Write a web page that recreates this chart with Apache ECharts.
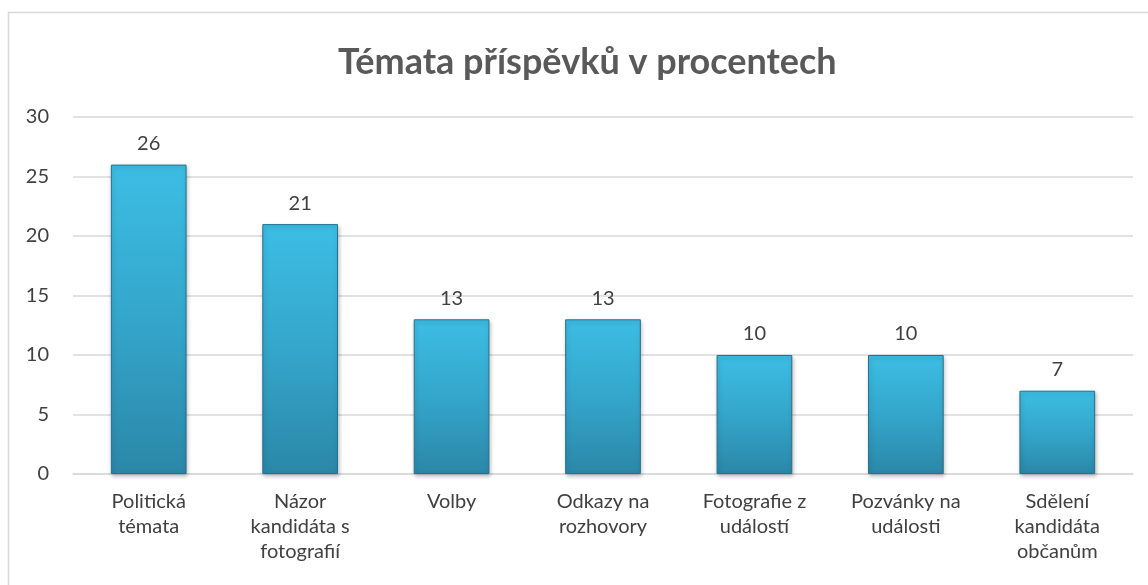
<!DOCTYPE html>
<html>
<head>
<meta charset="utf-8">
<script src="https://cdn.jsdelivr.net/npm/echarts@6/dist/echarts.min.js"></script>
<style>
  html, body { margin: 0; padding: 0; background: #fff; }
  #chart { width: 1148px; height: 585px; }
</style>
</head>
<body>
<div id="chart"></div>
<script>
const title = 'Témata příspěvků v procentech'
const categories = [
  'Politická\ntémata',
  'Názor\nkandidáta s\nfotografií',
  'Volby',
  'Odkazy na\nrozhovory',
  'Fotografie z\nudálostí',
  'Pozvánky na\nudálosti',
  'Sdělení\nkandidáta\nobčanům'
]
const values = [26, 21, 13, 13, 10, 10, 7]
const yTicks = { min: 0, max: 30, interval: 5 }

const font = 'Lato, "Open Sans", sans-serif'
const chart = echarts.init(document.getElementById('chart'))

chart.setOption({
  animation: false,
  title: {
    text: title,
    left: 333,
    top: 39,
    textStyle: { fontFamily: font, fontSize: 36, fontWeight: 'bold', color: '#595959' }
  },
  graphic: [{
    type: 'rect',
    shape: { x: 8.5, y: 12.5, width: 1150, height: 600 },
    style: { fill: 'none', stroke: '#d9d9d9', lineWidth: 1.5 },
    silent: true
  }],
  grid: { left: 73, right: 15, top: 117, bottom: 111 },
  xAxis: {
    type: 'category',
    data: categories,
    axisTick: { show: false },
    axisLine: { lineStyle: { color: '#d9d9d9', width: 1.5 } },
    axisLabel: { fontFamily: font, fontSize: 20, color: '#404040', lineHeight: 25, margin: 15, interval: 0 }
  },
  yAxis: {
    type: 'value',
    min: yTicks.min,
    max: yTicks.max,
    interval: yTicks.interval,
    axisLine: { show: false },
    axisTick: { show: false },
    splitLine: { lineStyle: { color: '#d9d9d9', width: 1.5 } },
    axisLabel: { fontFamily: font, fontSize: 20, color: '#404040', margin: 24 }
  },
  series: [{
    type: 'bar',
    data: values,
    barWidth: '50%',
    itemStyle: {
      color: {
        type: 'linear', x: 0, y: 0, x2: 0, y2: 1,
        colorStops: [
          { offset: 0, color: '#3dbde4' },
          { offset: 0.5, color: '#34a6cb' },
          { offset: 1, color: '#2b87a8' }
        ]
      },
      borderColor: '#24728f',
      borderWidth: 1,
      shadowColor: 'rgba(0,0,0,0.25)',
      shadowBlur: 4,
      shadowOffsetX: 1,
      shadowOffsetY: 2
    },
    label: {
      show: true,
      position: 'top',
      distance: 11,
      fontFamily: font,
      fontSize: 20,
      color: '#404040'
    }
  }]
})
</script>
</body>
</html>
